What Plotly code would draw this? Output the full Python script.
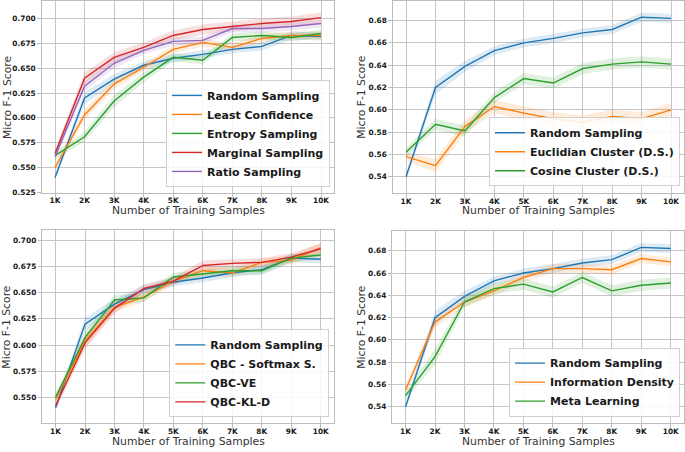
import plotly.graph_objects as go

# ---------------- data ----------------
x_k = [1, 2, 3, 4, 5, 6, 7, 8, 9, 10]
x_tick_text = ["1K", "2K", "3K", "4K", "5K", "6K", "7K", "8K", "9K", "10K"]

random_sampling = [0.540, 0.620, 0.639, 0.653, 0.660, 0.664, 0.669, 0.672, 0.683, 0.682]
random_band = [0.003, 0.006, 0.005, 0.004, 0.004, 0.004, 0.004, 0.004, 0.004, 0.004]

least_confidence = [0.550, 0.603, 0.634, 0.651, 0.669, 0.676, 0.671, 0.680, 0.683, 0.683]
least_conf_band = [0.003, 0.005, 0.005, 0.004, 0.004, 0.004, 0.004, 0.004, 0.004, 0.004]
entropy_sampling = [0.562, 0.581, 0.617, 0.641, 0.661, 0.658, 0.681, 0.683, 0.681, 0.685]
entropy_band = [0.004, 0.005, 0.006, 0.005, 0.004, 0.004, 0.004, 0.004, 0.004, 0.004]
marginal_sampling = [0.564, 0.640, 0.661, 0.671, 0.683, 0.689, 0.692, 0.695, 0.697, 0.701]
marginal_band = [0.004, 0.006, 0.005, 0.005, 0.005, 0.005, 0.005, 0.005, 0.005, 0.005]
ratio_sampling = [0.561, 0.632, 0.655, 0.668, 0.677, 0.678, 0.690, 0.690, 0.692, 0.695]
ratio_band = [0.004, 0.005, 0.005, 0.004, 0.004, 0.004, 0.004, 0.004, 0.004, 0.004]

euclidian_cluster = [0.558, 0.550, 0.585, 0.603, 0.597, 0.592, 0.589, 0.594, 0.592, 0.600]
euclidian_band = [0.004, 0.006, 0.006, 0.006, 0.006, 0.006, 0.006, 0.006, 0.006, 0.006]
cosine_cluster = [0.562, 0.587, 0.581, 0.611, 0.628, 0.624, 0.637, 0.641, 0.643, 0.641]
cosine_band = [0.004, 0.005, 0.005, 0.005, 0.005, 0.005, 0.005, 0.005, 0.005, 0.005]

qbc_softmax = [0.548, 0.604, 0.636, 0.646, 0.661, 0.671, 0.669, 0.679, 0.681, 0.693]
qbc_softmax_band = [0.004, 0.006, 0.005, 0.004, 0.004, 0.004, 0.004, 0.004, 0.004, 0.005]
qbc_ve = [0.550, 0.607, 0.643, 0.645, 0.665, 0.668, 0.671, 0.671, 0.683, 0.686]
qbc_ve_band = [0.004, 0.006, 0.005, 0.004, 0.004, 0.004, 0.004, 0.004, 0.004, 0.004]
qbc_kld = [0.542, 0.602, 0.635, 0.654, 0.661, 0.676, 0.678, 0.679, 0.684, 0.692]
qbc_kld_band = [0.004, 0.006, 0.005, 0.004, 0.004, 0.005, 0.004, 0.004, 0.004, 0.005]

info_density = [0.555, 0.616, 0.634, 0.644, 0.656, 0.664, 0.664, 0.663, 0.673, 0.670]
info_density_band = [0.004, 0.005, 0.004, 0.004, 0.004, 0.004, 0.004, 0.004, 0.004, 0.004]
meta_learning = [0.550, 0.585, 0.634, 0.646, 0.650, 0.643, 0.656, 0.644, 0.649, 0.651]
meta_learning_band = [0.004, 0.007, 0.005, 0.005, 0.005, 0.005, 0.005, 0.005, 0.005, 0.005]

y_ticks_tl = [0.525, 0.550, 0.575, 0.600, 0.625, 0.650, 0.675, 0.700]
y_ticks_tr = [0.54, 0.56, 0.58, 0.60, 0.62, 0.64, 0.66, 0.68]
y_ticks_bl = [0.550, 0.575, 0.600, 0.625, 0.650, 0.675, 0.700]
y_ticks_br = [0.54, 0.56, 0.58, 0.60, 0.62, 0.64, 0.66, 0.68]

# ---------------- style ----------------
W, H = 685, 452
BLUE, ORANGE, GREEN, RED, PURPLE = "#1f77b4", "#ff7f0e", "#2ca02c", "#d62728", "#9467bd"
FONT = "DejaVu Sans"
GRID = "#c6c6c6"
SPINE = "#bdbdbd"


def rgba(hexc, a):
    h = hexc.lstrip("#")
    return "rgba(%d,%d,%d,%s)" % (int(h[0:2], 16), int(h[2:4], 16), int(h[4:6], 16), a)


fig = go.Figure()

panels = [
    ("", "legend", [
        ("Random Sampling", random_sampling, random_band, BLUE),
        ("Least Confidence", least_confidence, least_conf_band, ORANGE),
        ("Entropy Sampling", entropy_sampling, entropy_band, GREEN),
        ("Marginal Sampling", marginal_sampling, marginal_band, RED),
        ("Ratio Sampling", ratio_sampling, ratio_band, PURPLE),
    ]),
    ("2", "legend2", [
        ("Random Sampling", random_sampling, random_band, BLUE),
        ("Euclidian Cluster (D.S.)", euclidian_cluster, euclidian_band, ORANGE),
        ("Cosine Cluster (D.S.)", cosine_cluster, cosine_band, GREEN),
    ]),
    ("3", "legend3", [
        ("Random Sampling", random_sampling, random_band, BLUE),
        ("QBC - Softmax S.", qbc_softmax, qbc_softmax_band, ORANGE),
        ("QBC-VE", qbc_ve, qbc_ve_band, GREEN),
        ("QBC-KL-D", qbc_kld, qbc_kld_band, RED),
    ]),
    ("4", "legend4", [
        ("Random Sampling", random_sampling, random_band, BLUE),
        ("Information Density", info_density, info_density_band, ORANGE),
        ("Meta Learning", meta_learning, meta_learning_band, GREEN),
    ]),
]

for suffix, leg, series in panels:
    xa, ya = "x" + suffix, "y" + suffix
    for name, vals, band, col in series:
        upper = [v + b for v, b in zip(vals, band)]
        lower = [v - b for v, b in zip(vals, band)]
        fig.add_trace(go.Scatter(x=x_k, y=upper, mode="lines", line=dict(width=0, color=col),
                                 showlegend=False, hoverinfo="skip", xaxis=xa, yaxis=ya))
        fig.add_trace(go.Scatter(x=x_k, y=lower, mode="lines", line=dict(width=0, color=col),
                                 fill="tonexty", fillcolor=rgba(col, 0.15),
                                 showlegend=False, hoverinfo="skip", xaxis=xa, yaxis=ya))
    for name, vals, band, col in series:
        fig.add_trace(go.Scatter(x=x_k, y=vals, mode="lines", name=name,
                                 line=dict(width=1.4, color=col),
                                 xaxis=xa, yaxis=ya, legend=leg))

# pixel boxes of the four plot areas: (left, right, top, bottom)
boxes = {
    "": (41.7, 334.3, 0.5, 194.0),
    "2": (392.8, 684.3, 0.5, 194.3),
    "3": (42.3, 334.0, 232.0, 427.0),
    "4": (392.3, 684.0, 232.7, 427.0),
}
yranges = {"": [0.5245, 0.7172], "2": [0.5253, 0.6971], "3": [0.5252, 0.7095], "4": [0.5252, 0.6976]}
yticks = {"": y_ticks_tl, "2": y_ticks_tr, "3": y_ticks_bl, "4": y_ticks_br}
yfmt = {"": "%.3f", "2": "%.2f", "3": "%.3f", "4": "%.2f"}

tickfont = dict(family=FONT, size=7.4, color="#1a1a1a", weight="bold")
layout = {}
for suffix, (l, r, t, b) in boxes.items():
    common = dict(showgrid=True, gridcolor=GRID, gridwidth=1.4, showline=True, linecolor=SPINE,
                  linewidth=1, mirror=True, ticks="outside", ticklen=3.5, tickcolor=SPINE,
                  tickwidth=1, tickfont=tickfont, zeroline=False)
    layout["xaxis" + suffix] = dict(domain=[l / W, r / W], anchor="y" + suffix, range=[0.55, 10.45],
                                    tickvals=x_k, ticktext=x_tick_text, ticklabelstandoff=-3, **common)
    layout["yaxis" + suffix] = dict(domain=[1 - b / H, 1 - t / H], anchor="x" + suffix,
                                    range=yranges[suffix], tickvals=yticks[suffix],
                                    ticktext=[yfmt[suffix] % v for v in yticks[suffix]], **common)

legfont = dict(family=FONT, size=11, color="#1a1a1a", weight="bold")
legpos = {"legend": (330, 188), "legend2": (680, 187.3), "legend3": (329.3, 421), "legend4": (680, 420.3)}
for name, (px, py) in legpos.items():
    layout[name] = dict(x=px / W, y=1 - py / H, xanchor="right", yanchor="bottom",
                        bgcolor="rgba(255,255,255,0.85)", bordercolor="#d0d0d0", borderwidth=1,
                        font=legfont, tracegroupgap=0, traceorder="normal")

annotations = []
title_font = dict(family=FONT, size=10.8, color="#333333")
for suffix, (l, r, t, b) in boxes.items():
    xt_y = 211.5 if t < 100 else 445.0
    annotations.append(dict(text="Number of Training Samples", x=(l + r) / 2 / W, y=1 - xt_y / H,
                            xref="paper", yref="paper", showarrow=False, xanchor="center",
                            yanchor="middle", font=title_font))
    yt_x = 6.8 if l < 100 else 361.5
    annotations.append(dict(text="Micro F-1 Score", x=yt_x / W, y=1 - (t + b) / 2 / H,
                            xref="paper", yref="paper", showarrow=False, textangle=-90,
                            xanchor="center", yanchor="middle", font=title_font))

fig.update_layout(width=W, height=H, margin=dict(l=0, r=0, t=0, b=0),
                  paper_bgcolor="white", plot_bgcolor="white",
                  font=dict(family=FONT), annotations=annotations, **layout)

fig.write_html("out.html", config={"displayModeBar": False})

# remove the default page margin so the 685x452 figure fills the window exactly
with open("out.html", encoding="utf-8") as f:
    html = f.read()
html = html.replace("<head>", "<head><style>html,body{margin:0;padding:0;overflow:hidden;}</style>", 1)
with open("out.html", "w", encoding="utf-8") as f:
    f.write(html)
